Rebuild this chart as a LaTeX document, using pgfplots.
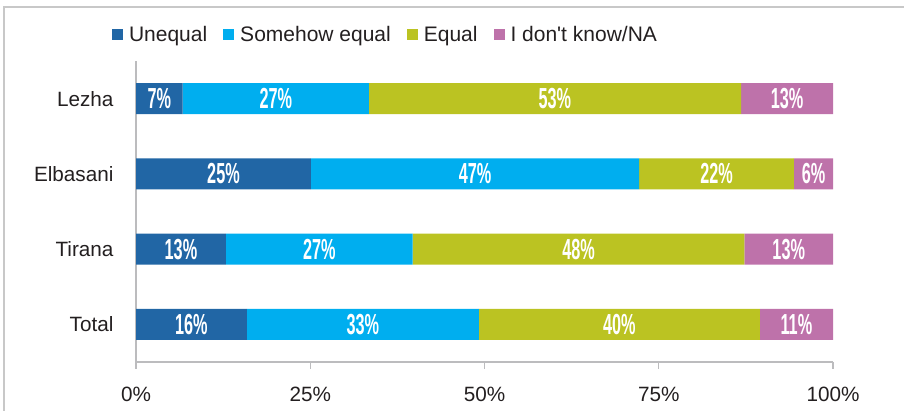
\documentclass[border=0pt]{standalone}
\usepackage{fontspec}
\setmainfont{Liberation Sans}
\usepackage{pgfplots}
\usepackage{pgfplotstable}
\usepackage{graphicx}
\pgfplotsset{compat=1.18}
\definecolor{cUneq}{RGB}{33,102,165}
\definecolor{cSome}{RGB}{0,174,239}
\definecolor{cEq}{RGB}{187,195,34}
\definecolor{cDK}{RGB}{190,114,170}
\definecolor{txt}{RGB}{35,31,32}
\definecolor{axg}{RGB}{188,188,190}
\definecolor{frameg}{RGB}{200,200,200}
\pgfplotstableread{
y val lab
3 6.7 7
2 25.1 25
1 12.9 13
0 15.9 16
}\unequal
\pgfplotstableread{
y val lab
3 26.7 27
2 47.1 47
1 26.8 27
0 33.3 33
}\somehow
\pgfplotstableread{
y val lab
3 53.4 53
2 22.2 22
1 47.6 48
0 40.3 40
}\equal
\pgfplotstableread{
y val lab
3 13.2 13
2 5.6 6
1 12.7 13
0 10.5 11
}\dk
\begin{document}
\begin{tikzpicture}
\useasboundingbox (0pt,0pt) rectangle (904pt,411pt);
\draw[frameg, line width=1.6pt] (4pt,0pt) -- (4pt,404pt) -- (904pt,404pt);
\begin{axis}[
  at={(136pt,49pt)}, anchor=south west,
  width=697pt, height=301pt, scale only axis,
  xbar stacked, bar width=31pt,
  xmin=0, xmax=100, ymin=-0.5, ymax=3.5,
  axis x line*=bottom, axis y line*=left,
  axis line style={axg, line width=1.6pt},
  xtick={0,25,50,75,100},
  xticklabels={0\%,25\%,50\%,75\%,100\%},
  x tick style={axg, line width=1.2pt},
  xtick align=outside, major tick length=7pt,
  ytick={0,1,2,3},
  yticklabels={Total,Tirana,Elbasani,Lezha},
  y tick style={draw=none},
  minor ytick={-0.5,0.5,1.5,2.5,3.5},
  minor tick length=6pt,
  minor y tick style={axg, line width=1.2pt},
  ytick align=outside,
  tick label style={font=\fontsize{20.7}{24}\selectfont, text=txt},
  xticklabel style={yshift=-15pt},
  yticklabel style={xshift=-12pt},
  point meta=explicit symbolic,
  nodes near coords={\scalebox{0.56}[1]{\bfseries\fontsize{29}{29}\selectfont\pgfplotspointmeta\%}},
  every node near coord/.append style={text=white, anchor=center},
  legend columns=4,
  legend style={draw=none, fill=none, at={(-0.039,1.088)}, anchor=west,
    font=\fontsize{21}{24}\selectfont, text=txt,
    /tikz/every odd column/.append style={column sep=4pt},
    /tikz/every even column/.append style={column sep=14pt}},
  legend image code/.code={\fill[#1] (0pt,-5.5pt) rectangle (11pt,5.5pt);},
  clip=false,
]
\addplot[fill=cUneq, draw=none] table[x=val, y=y, meta=lab] {\unequal};
\addlegendentry{Unequal}
\addplot[fill=cSome, draw=none] table[x=val, y=y, meta=lab] {\somehow};
\addlegendentry{Somehow equal}
\addplot[fill=cEq, draw=none] table[x=val, y=y, meta=lab] {\equal};
\addlegendentry{Equal}
\addplot[fill=cDK, draw=none] table[x=val, y=y, meta=lab] {\dk};
\addlegendentry{I don\textquotesingle t know/NA}
\end{axis}
\end{tikzpicture}
\end{document}
